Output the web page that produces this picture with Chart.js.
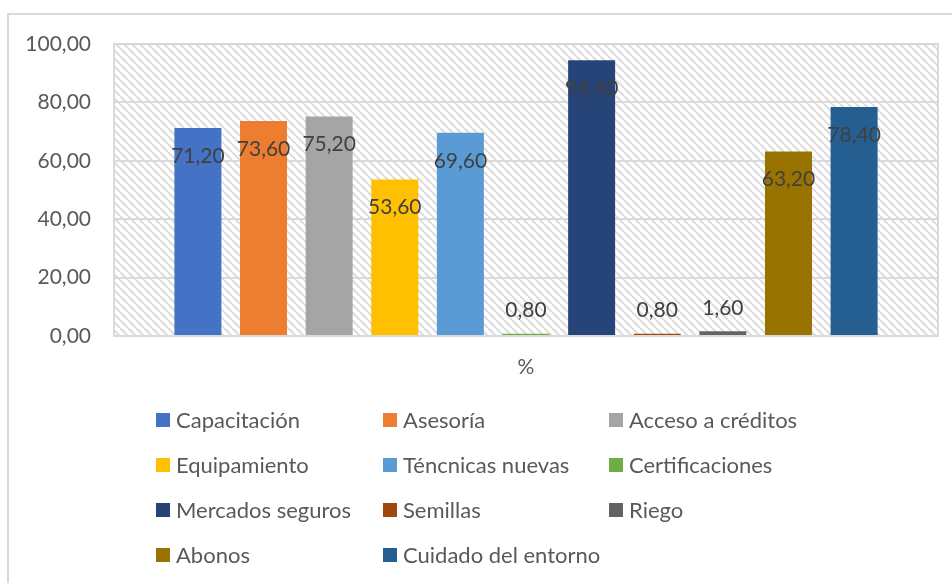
<!DOCTYPE html>
<html>
<head>
<meta charset="utf-8">
<script src="https://cdn.jsdelivr.net/npm/chart.js@4.4.1/dist/chart.umd.min.js"></script>
<style>
  body { margin: 0; background: #fff; }
  #wrap { position: relative; width: 952px; height: 583px; overflow: hidden; font-family: Lato, sans-serif; }
  #frame { position: absolute; left: 7px; top: 13px; width: 980px; height: 620px;
           border-left: 2px solid #d9d9d9; border-top: 2px solid #d9d9d9; }
  canvas { position: absolute; left: 0; top: 0; }
  #legend { position: absolute; left: 156px; top: 397px; display: grid;
            grid-template-columns: 227px 226px auto; grid-auto-rows: 45px;
            align-items: center; color: #595959; font-size: 22px; }
  #legend .item { display: flex; align-items: center; white-space: nowrap; }
  #legend .box { width: 14px; height: 14px; margin-right: 6px; flex: none; }
</style>
</head>
<body>
<div id="wrap">
  <div id="frame"></div>
  <canvas id="barchart" width="952" height="583"></canvas>
  <div id="legend"></div>
</div>
<script>
// data
const categories = ['%'];
const seriesNames = ['Capacitación', 'Asesoría', 'Acceso a créditos', 'Equipamiento',
  'Téncnicas nuevas', 'Certificaciones', 'Mercados seguros', 'Semillas', 'Riego',
  'Abonos', 'Cuidado del entorno'];
const seriesValues = [71.2, 73.6, 75.2, 53.6, 69.6, 0.8, 94.4, 0.8, 1.6, 63.2, 78.4];
const seriesColors = ['#4472C4', '#ED7D31', '#A5A5A5', '#FFC000', '#5B9BD5', '#70AD47',
  '#264478', '#9E480E', '#636363', '#997300', '#255E91'];
const yTicks = { min: 0, max: 100, step: 20 };

const fmt = v => v.toFixed(2).replace('.', ',');

// diagonal hatch for the plot area
const tile = document.createElement('canvas');
tile.width = 8; tile.height = 8;
const tctx = tile.getContext('2d');
tctx.fillStyle = '#fff';
tctx.fillRect(0, 0, 8, 8);
tctx.strokeStyle = '#dcdcdc';
tctx.lineWidth = 2;
tctx.beginPath();
for (const k of [-8, 0, 8]) { tctx.moveTo(k, 0); tctx.lineTo(k + 8, 8); }
tctx.stroke();

const plotArea = {
  id: 'plotArea',
  beforeDraw(chart) {
    const { ctx, chartArea: a } = chart;
    ctx.save();
    ctx.fillStyle = ctx.createPattern(tile, 'repeat');
    ctx.fillRect(a.left, a.top, a.right - a.left, a.bottom - a.top);
    ctx.restore();
  },
  beforeDatasetsDraw(chart) {
    const { ctx, chartArea: a } = chart;
    ctx.save();
    ctx.strokeStyle = '#d9d9d9';
    ctx.lineWidth = 2;
    ctx.strokeRect(a.left, a.top, a.right - a.left, a.bottom - a.top);
    ctx.restore();
  }
};

// value labels: just under the top of tall bars, above the tiny ones
const valueLabels = {
  id: 'valueLabels',
  afterDatasetsDraw(chart) {
    const { ctx } = chart;
    ctx.save();
    ctx.font = '21px Lato, sans-serif';
    ctx.fillStyle = '#404040';
    ctx.textAlign = 'center';
    ctx.textBaseline = 'middle';
    chart.data.datasets.forEach((ds, i) => {
      const bar = chart.getDatasetMeta(i).data[0];
      const v = ds.data[0];
      const y = v > 10 ? bar.y + 28 : bar.y - 23;
      ctx.fillText(fmt(v), bar.x, y);
    });
    ctx.restore();
  }
};

const datasets = seriesNames.map((name, i) => ({
  label: name,
  data: [seriesValues[i]],
  backgroundColor: seriesColors[i],
  borderWidth: 0,
  categoryPercentage: 0.876,
  barPercentage: 0.716
}));

const ctx = document.getElementById('barchart');

const chart = new Chart(ctx, {
  type: 'bar',
  data: { labels: categories, datasets },
  options: {
    responsive: false,
    animation: false,
    layout: { padding: { left: 0, right: 14, top: 44, bottom: 193 } },
    plugins: {
      legend: { display: false },
      tooltip: { enabled: false }
    },
    scales: {
      x: {
        grid: { display: false },
        border: { display: false },
        ticks: { display: false },
        title: {
          display: true,
          text: '%',
          color: '#595959',
          font: { family: 'Lato', size: 21 },
          padding: { top: 0, bottom: 10 }
        },
        afterFit(s) { s.height = 54; }
      },
      y: {
        min: yTicks.min,
        max: yTicks.max,
        ticks: {
          stepSize: yTicks.step,
          padding: 23,
          color: '#595959',
          font: { family: 'Lato', size: 21 },
          callback: v => fmt(v)
        },
        grid: { color: '#d9d9d9', lineWidth: 2, drawTicks: false },
        border: { display: false },
        afterFit(s) { s.width = 114; }
      }
    }
  },
  plugins: [plotArea, valueLabels]
});

// legend in three columns like the original
const legend = document.getElementById('legend');
chart.data.datasets.forEach(ds => {
  const item = document.createElement('div');
  item.className = 'item';
  const box = document.createElement('span');
  box.className = 'box';
  box.style.background = ds.backgroundColor;
  const txt = document.createElement('span');
  txt.textContent = ds.label;
  item.appendChild(box);
  item.appendChild(txt);
  legend.appendChild(item);
});
</script>
</body>
</html>
